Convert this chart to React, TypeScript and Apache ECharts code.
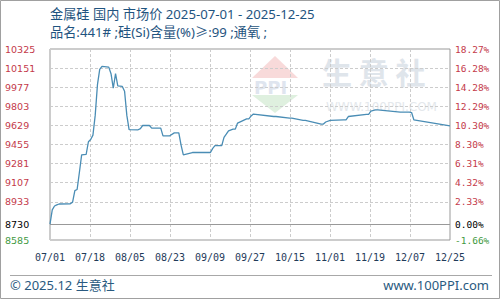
import React, { useEffect, useRef } from "react";
import * as echarts from "echarts";

const titleText = "金属硅 国内 市场价 2025-07-01 - 2025-12-25";
const subTitleText = "品名:441# ;硅(Si)含量(%)≥:99 ;通氧 ;";

const startDate = "2025-07-01";
const dates = [
  "2025-07-01", "2025-07-02", "2025-07-03", "2025-07-04", "2025-07-05", "2025-07-10",
  "2025-07-11", "2025-07-12", "2025-07-13", "2025-07-14", "2025-07-15", "2025-07-17",
  "2025-07-18", "2025-07-19", "2025-07-20", "2025-07-21", "2025-07-22", "2025-07-23",
  "2025-07-24", "2025-07-27", "2025-07-28", "2025-07-29", "2025-07-30", "2025-07-31",
  "2025-08-02", "2025-08-03", "2025-08-04", "2025-08-05", "2025-08-09", "2025-08-10",
  "2025-08-11", "2025-08-14", "2025-08-15", "2025-08-19", "2025-08-20", "2025-08-23",
  "2025-08-25", "2025-08-27", "2025-08-28", "2025-08-29", "2025-09-02", "2025-09-10",
  "2025-09-11", "2025-09-12", "2025-09-14", "2025-09-15", "2025-09-16", "2025-09-17",
  "2025-09-18", "2025-09-20", "2025-09-21", "2025-09-22", "2025-09-26", "2025-09-27",
  "2025-09-28", "2025-09-29", "2025-10-08", "2025-10-09", "2025-10-15", "2025-10-16",
  "2025-10-21", "2025-10-22", "2025-10-29", "2025-10-30", "2025-10-31", "2025-11-02",
  "2025-11-08", "2025-11-09", "2025-11-10", "2025-11-18", "2025-11-19", "2025-11-20",
  "2025-11-22", "2025-11-23", "2025-12-03", "2025-12-07", "2025-12-08", "2025-12-09",
  "2025-12-25"
];
const prices = [
  8730, 8860, 8895, 8905, 8913, 8915,
  8930, 9035, 9045, 9200, 9360, 9365,
  9480, 9500, 9540, 9720, 10000, 10140,
  10166, 10160, 10100, 9969, 10100, 9990,
  9984, 9940, 9720, 9590, 9589, 9600,
  9628, 9628, 9604, 9604, 9534, 9534,
  9561, 9561, 9450, 9361, 9382, 9382,
  9420, 9445, 9445, 9445, 9520, 9549,
  9580, 9595, 9595, 9650, 9689, 9689,
  9715, 9732, 9710, 9710, 9695, 9695,
  9674, 9674, 9641, 9641, 9660, 9674,
  9680, 9680, 9710, 9730, 9730, 9760,
  9771, 9771, 9750, 9750, 9746, 9680,
  9625
];

const basePrice = 8730;
const yMin = 8585;
const yMax = 10325;
const yTickValues = [8585, 8730, 8933, 9107, 9281, 9455, 9629, 9803, 9977, 10151, 10325];
const yTickLabelsLeft = ["8585", "8730", "8933", "9107", "9281", "9455", "9629", "9803", "9977", "10151", "10325"];
const yTickLabelsRight = ["-1.66%", "0.00%", "2.33%", "4.32%", "6.31%", "8.30%", "10.30%", "12.29%", "14.28%", "16.28%", "18.27%"];
const yGridValues = [8933, 9107, 9281, 9455, 9629, 9803, 9977, 10151];

const xTickLabels = ["07/01", "07/18", "08/05", "08/23", "09/09", "09/27", "10/15", "11/01", "11/19", "12/07", "12/25"];
const totalDays = 177;

const dayIndex = (d: string) => Math.round((Date.parse(d) - Date.parse(startDate)) / 86400000);

export default function App() {
  const ref = useRef<HTMLDivElement>(null);
  useEffect(() => {
    if (!ref.current) return;
    const chart = echarts.init(ref.current, null, { renderer: "svg" });
    const xTickValues = xTickLabels.map((_, i) => Number(((i * totalDays) / (xTickLabels.length - 1)).toFixed(2)));
    const labelColor = (v: any) => {
      const n = Number(v);
      if (n === basePrice) return "#000000";
      if (n < basePrice) return "#3f9a3f";
      return "#c43a4a";
    };
    const findIdx = (v: any) => {
      const n = Number(v);
      let best = 0;
      yTickValues.forEach((t, i) => {
        if (Math.abs(t - n) < Math.abs(yTickValues[best] - n)) best = i;
      });
      return best;
    };
    const lineData = dates.map((d, i) => [dayIndex(d), prices[i]]);
    chart.setOption({
      animation: false,
      backgroundColor: "#ffffff",
      grid: { left: 50, top: 49, width: 400, height: 191, show: true, borderColor: "#999999", borderWidth: 1, backgroundColor: "transparent" },
      xAxis: {
        type: "value",
        min: 0,
        max: totalDays,
        axisLine: { show: false },
        axisTick: { show: false, customValues: xTickValues },
        splitLine: { show: true, lineStyle: { color: "#cccccc", type: [3, 2], width: 1 } },
        axisLabel: {
          customValues: xTickValues,
          margin: 12,
          color: "#1f3b5a",
          fontFamily: "DejaVu Sans Mono",
          fontSize: 10,
          formatter: (v: number) => {
            const i = xTickValues.findIndex((t) => Math.abs(t - v) < 0.01);
            return i >= 0 ? xTickLabels[i] : "";
          },
        },
      },
      yAxis: [
        {
          type: "value",
          min: yMin,
          max: yMax,
          position: "left",
          axisLine: { show: false },
          axisTick: { show: false, customValues: yGridValues },
          splitLine: { show: true, lineStyle: { color: "#cccccc", type: [3, 2], width: 1 } },
          axisLabel: {
            customValues: yTickValues,
            showMinLabel: true,
            showMaxLabel: true,
            align: "left",
            margin: 45,
            fontFamily: "DejaVu Sans",
            fontSize: 9.5,
            color: labelColor,
            formatter: (v: number) => yTickLabelsLeft[findIdx(v)],
          },
        },
        {
          type: "value",
          min: yMin,
          max: yMax,
          position: "right",
          axisLine: { show: false },
          axisTick: { show: false, customValues: yGridValues },
          splitLine: { show: false },
          axisLabel: {
            customValues: yTickValues,
            showMinLabel: true,
            showMaxLabel: true,
            align: "left",
            margin: 5,
            fontFamily: "DejaVu Sans Mono",
            fontSize: 9.5,
            color: labelColor,
            formatter: (v: number) => yTickLabelsRight[findIdx(v)],
          },
        },
      ],
      series: [
        {
          type: "line",
          data: lineData,
          showSymbol: false,
          symbol: "none",
          z: 5,
          lineStyle: { color: "#4a8db5", width: 1.3 },
          markLine: {
            silent: true,
            symbol: "none",
            label: { show: false },
            lineStyle: { color: "#999999", type: "solid", width: 1 },
            data: [{ yAxis: basePrice }],
          },
        },
      ],
      graphic: [
        { type: "rect", shape: { x: 0.5, y: 0.5, width: 499, height: 298 }, style: { fill: "none", stroke: "#a0a0a0", lineWidth: 1 }, silent: true },
        // watermark
        { type: "polygon", shape: { points: [[252, 78], [298, 78], [275, 56]] }, style: { fill: "#f8dada" }, silent: true, z: -1 },
        { type: "text", x: 254, y: 78, style: { text: "PPI", fill: "#dfe5ef", font: "bold 18px 'DejaVu Sans'" }, silent: true, z: -1 },
        { type: "polygon", shape: { points: [[252, 95], [298, 95], [275, 113]] }, style: { fill: "#dff0df" }, silent: true, z: -1 },
        { type: "text", x: 322, y: 56, style: { text: "生 意 社", fill: "#dfe5eb", font: "bold 30px 'Noto Sans CJK SC'" }, silent: true, z: -1 },
        { type: "text", x: 326, y: 101, style: { text: "WWW.100PPI.COM", fill: "#e4e8ec", font: "12px 'DejaVu Sans'" }, silent: true, z: -1 },
        // titles
        { type: "text", x: 50, y: 7, style: { text: titleText, fill: "#1f5480", font: "13.2px 'Noto Sans', 'Noto Sans CJK SC'" } },
        { type: "text", x: 50, y: 25, style: { text: subTitleText, fill: "#1f5480", font: "13.2px 'Noto Sans', 'Noto Sans CJK SC'" } },
        // footer
        { type: "line", shape: { x1: 10, y1: 275.5, x2: 492, y2: 275.5 }, style: { stroke: "#a8a8a8", lineWidth: 1 } },
        { type: "text", x: 10, y: 278, style: { text: "© 2025.12 生意社", fill: "#2a5a80", font: "13px 'Noto Sans', 'Noto Sans CJK SC'" } },
        { type: "text", x: 489, y: 278, style: { text: "www.100PPI.com", fill: "#2a5a80", font: "13px 'Noto Sans'", align: "right" } },
      ],
    });
    return () => chart.dispose();
  }, []);
  return <div ref={ref} style={{ position: "fixed", left: 0, top: 0, width: 500, height: 300 }} />;
}
